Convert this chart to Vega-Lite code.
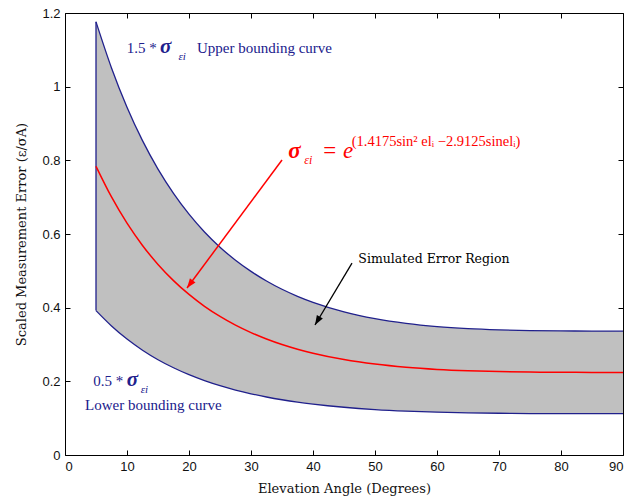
{
  "$schema": "https://vega.github.io/schema/vega-lite/v6.json",
  "width": 558,
  "height": 442,
  "autosize": {"type": "none"},
  "padding": {"left": 65, "top": 13, "right": 8, "bottom": 47},
  "background": "white",
  "config": {
    "view": {"stroke": "black", "strokeWidth": 1},
    "axis": {
      "grid": false,
      "domain": false,
      "ticks": true,
      "tickColor": "#000000",
      "tickOpacity": 1,
      "tickWidth": 1,
      "tickSize": 5,
      "offset": -5,
      "zindex": 2,
      "labelPadding": 5,
      "labelFont": "Liberation Sans",
      "labelFontSize": 13,
      "labelColor": "#111",
      "titleFont": "DejaVu Serif",
      "titleFontSize": 13,
      "titleFontWeight": "normal",
      "titleColor": "#111"
    }
  },
  "datasets": {
    "curves": [
      {"el": 5, "lo": 0.392, "mid": 0.784, "hi": 1.176},
      {"el": 7.5, "lo": 0.3503, "mid": 0.7005, "hi": 1.0508},
      {"el": 10, "lo": 0.3147, "mid": 0.6294, "hi": 0.9441},
      {"el": 12.5, "lo": 0.2845, "mid": 0.5689, "hi": 0.8534},
      {"el": 15, "lo": 0.2587, "mid": 0.5174, "hi": 0.7761},
      {"el": 17.5, "lo": 0.2368, "mid": 0.4735, "hi": 0.7103},
      {"el": 20, "lo": 0.218, "mid": 0.4359, "hi": 0.6539},
      {"el": 22.5, "lo": 0.2019, "mid": 0.4037, "hi": 0.6056},
      {"el": 25, "lo": 0.1881, "mid": 0.3762, "hi": 0.5643},
      {"el": 27.5, "lo": 0.1763, "mid": 0.3525, "hi": 0.5288},
      {"el": 30, "lo": 0.1662, "mid": 0.3323, "hi": 0.4985},
      {"el": 32.5, "lo": 0.1575, "mid": 0.3149, "hi": 0.4724},
      {"el": 35, "lo": 0.15, "mid": 0.2999, "hi": 0.4499},
      {"el": 37.5, "lo": 0.1436, "mid": 0.2872, "hi": 0.4308},
      {"el": 40, "lo": 0.1382, "mid": 0.2763, "hi": 0.4145},
      {"el": 45, "lo": 0.1296, "mid": 0.2591, "hi": 0.3887},
      {"el": 50, "lo": 0.1234, "mid": 0.2468, "hi": 0.3702},
      {"el": 55, "lo": 0.1191, "mid": 0.2382, "hi": 0.3573},
      {"el": 60, "lo": 0.1162, "mid": 0.2324, "hi": 0.3486},
      {"el": 65, "lo": 0.1144, "mid": 0.2287, "hi": 0.3431},
      {"el": 70, "lo": 0.1133, "mid": 0.2265, "hi": 0.3398},
      {"el": 75, "lo": 0.1126, "mid": 0.2252, "hi": 0.3378},
      {"el": 80, "lo": 0.1123, "mid": 0.2246, "hi": 0.3369},
      {"el": 85, "lo": 0.1122, "mid": 0.2243, "hi": 0.3365},
      {"el": 90, "lo": 0.1121, "mid": 0.2242, "hi": 0.3363}
    ]
  },
  "layer": [
    {
      "data": {"name": "curves"},
      "mark": {"type": "area", "color": "#c0c0c0", "interpolate": "monotone"},
      "encoding": {
        "x": {"field": "el", "type": "quantitative", "scale": {"domain": [0, 90], "nice": false},
              "axis": {"orient": "bottom", "values": [0,10,20,30,40,50,60,70,80,90], "ticks": true, "tickSize": 5, "tickColor": "#000000", "title": "Elevation Angle (Degrees)", "titlePadding": 9}},
        "y": {"field": "lo", "type": "quantitative", "scale": {"domain": [0, 1.2], "nice": false},
              "axis": {"orient": "left", "values": [0,0.2,0.4,0.6,0.8,1,1.2], "ticks": true, "tickSize": 5, "tickColor": "#000000", "format": ".2~f", "title": "Scaled Measurement Error (ε/σA)", "titlePadding": 13}},
        "y2": {"field": "hi"}
      }
    },
    {
      "data": {"name": "curves"},
      "transform": [{"filter": "datum.el == 5"}],
      "mark": {"type": "rule", "color": "#20208c", "strokeWidth": 1.3},
      "encoding": {
        "x": {"field": "el", "type": "quantitative",
              "axis": {"orient": "top", "values": [0,10,20,30,40,50,60,70,80,90], "ticks": true, "tickSize": 5, "tickColor": "#000000", "labels": false, "title": null}},
        "y": {"field": "lo", "type": "quantitative",
              "axis": {"orient": "right", "values": [0,0.2,0.4,0.6,0.8,1,1.2], "ticks": true, "tickSize": 5, "tickColor": "#000000", "labels": false, "title": null}},
        "y2": {"field": "hi"}
      }
    },
    {
      "data": {"name": "curves"},
      "mark": {"type": "line", "color": "#20208c", "strokeWidth": 1.3, "interpolate": "monotone"},
      "encoding": {
        "x": {"field": "el", "type": "quantitative", "axis": null},
        "y": {"field": "hi", "type": "quantitative", "axis": null}
      }
    },
    {
      "data": {"name": "curves"},
      "mark": {"type": "line", "color": "#20208c", "strokeWidth": 1.3, "interpolate": "monotone"},
      "encoding": {
        "x": {"field": "el", "type": "quantitative", "axis": null},
        "y": {"field": "lo", "type": "quantitative", "axis": null}
      }
    },
    {
      "data": {"name": "curves"},
      "mark": {"type": "line", "color": "#ff0000", "strokeWidth": 1.5, "interpolate": "monotone"},
      "encoding": {
        "x": {"field": "el", "type": "quantitative", "axis": null},
        "y": {"field": "mid", "type": "quantitative", "axis": null}
      }
    },
    {
      "data": {"values": [{"x": 35.0, "y": 0.801, "x2": 19.68, "y2": 0.4534}]},
      "mark": {"type": "rule", "color": "#ff0000", "strokeWidth": 1.5},
      "encoding": {
        "x": {"field": "x", "type": "quantitative", "axis": null},
        "y": {"field": "y", "type": "quantitative", "axis": null},
        "x2": {"field": "x2"},
        "y2": {"field": "y2"}
      }
    },
    {
      "data": {"values": [{"x": 19.68, "y": 0.4534}]},
      "mark": {"type": "point", "shape": "M0,0L0.4,1.1L-0.4,1.1Z", "size": 300, "filled": true, "color": "#ff0000", "opacity": 1, "angle": 216.6},
      "encoding": {
        "x": {"field": "x", "type": "quantitative", "axis": null},
        "y": {"field": "y", "type": "quantitative", "axis": null}
      }
    },
    {
      "data": {"values": [{"x": 46.29, "y": 0.521, "x2": 40.32, "y2": 0.353}]},
      "mark": {"type": "rule", "color": "#000000", "strokeWidth": 1.3},
      "encoding": {
        "x": {"field": "x", "type": "quantitative", "axis": null},
        "y": {"field": "y", "type": "quantitative", "axis": null},
        "x2": {"field": "x2"},
        "y2": {"field": "y2"}
      }
    },
    {
      "data": {"values": [{"x": 40.32, "y": 0.353}]},
      "mark": {"type": "point", "shape": "M0,0L0.4,1.1L-0.4,1.1Z", "size": 300, "filled": true, "color": "#000000", "opacity": 1, "angle": 210.7},
      "encoding": {
        "x": {"field": "x", "type": "quantitative", "axis": null},
        "y": {"field": "y", "type": "quantitative", "axis": null}
      }
    },
    {
      "data": {"values": [
        {"x": 9.95, "y": 1.091, "t": "1.5 *"},
        {"x": 21.29, "y": 1.091, "t": "Upper bounding curve"},
        {"x": 4.56, "y": 0.187, "t": "0.5 *"},
        {"x": 3.23, "y": 0.122, "t": "Lower bounding curve"}
      ]},
      "mark": {"type": "text", "align": "left", "baseline": "alphabetic", "font": "Liberation Serif", "fontSize": 15, "color": "#20208c"},
      "encoding": {
        "x": {"field": "x", "type": "quantitative", "axis": null},
        "y": {"field": "y", "type": "quantitative", "axis": null},
        "text": {"field": "t"}
      }
    },
    {
      "data": {"values": [
        {"x": 15.32, "y": 1.091, "t": "σ"},
        {"x": 9.95, "y": 0.187, "t": "σ"}
      ]},
      "mark": {"type": "text", "align": "left", "baseline": "alphabetic", "font": "Liberation Serif", "fontSize": 21, "fontStyle": "italic", "fontWeight": "bold", "color": "#20208c"},
      "encoding": {
        "x": {"field": "x", "type": "quantitative", "axis": null},
        "y": {"field": "y", "type": "quantitative", "axis": null},
        "text": {"field": "t"}
      }
    },
    {
      "data": {"values": [
        {"x": 18.3, "y": 1.072, "t": "εi"},
        {"x": 12.2, "y": 0.168, "t": "εi"}
      ]},
      "mark": {"type": "text", "align": "left", "baseline": "alphabetic", "font": "Liberation Serif", "fontSize": 11, "fontStyle": "italic", "color": "#20208c"},
      "encoding": {
        "x": {"field": "x", "type": "quantitative", "axis": null},
        "y": {"field": "y", "type": "quantitative", "axis": null},
        "text": {"field": "t"}
      }
    },
    {
      "data": {"values": [{"x": 36.02, "y": 0.806, "t": "σ"}]},
      "mark": {"type": "text", "align": "left", "baseline": "alphabetic", "font": "Liberation Serif", "fontSize": 23, "fontStyle": "italic", "fontWeight": "bold", "color": "#ff0000"},
      "encoding": {
        "x": {"field": "x", "type": "quantitative", "axis": null},
        "y": {"field": "y", "type": "quantitative", "axis": null},
        "text": {"field": "t"}
      }
    },
    {
      "data": {"values": [{"x": 38.6, "y": 0.79, "t": "εi"}]},
      "mark": {"type": "text", "align": "left", "baseline": "alphabetic", "font": "Liberation Serif", "fontSize": 12, "fontStyle": "italic", "color": "#ff0000"},
      "encoding": {
        "x": {"field": "x", "type": "quantitative", "axis": null},
        "y": {"field": "y", "type": "quantitative", "axis": null},
        "text": {"field": "t"}
      }
    },
    {
      "data": {"values": [{"x": 41.4, "y": 0.806, "t": "= e"}]},
      "mark": {"type": "text", "align": "left", "baseline": "alphabetic", "font": "Liberation Serif", "fontSize": 23, "fontStyle": "italic", "color": "#ff0000"},
      "encoding": {
        "x": {"field": "x", "type": "quantitative", "axis": null},
        "y": {"field": "y", "type": "quantitative", "axis": null},
        "text": {"field": "t"}
      }
    },
    {
      "data": {"values": [{"x": 46.24, "y": 0.839, "t": "(1.4175sin² elᵢ −2.9125sinelᵢ)"}]},
      "mark": {"type": "text", "align": "left", "baseline": "alphabetic", "font": "Liberation Serif", "fontSize": 14.5, "color": "#ff0000"},
      "encoding": {
        "x": {"field": "x", "type": "quantitative", "axis": null},
        "y": {"field": "y", "type": "quantitative", "axis": null},
        "text": {"field": "t"}
      }
    },
    {
      "data": {"values": [{"x": 47.31, "y": 0.5213, "t": "Simulated Error Region"}]},
      "mark": {"type": "text", "align": "left", "baseline": "alphabetic", "font": "DejaVu Serif", "fontSize": 12.5, "color": "#000000"},
      "encoding": {
        "x": {"field": "x", "type": "quantitative", "axis": null},
        "y": {"field": "y", "type": "quantitative", "axis": null},
        "text": {"field": "t"}
      }
    }
  ]
}
